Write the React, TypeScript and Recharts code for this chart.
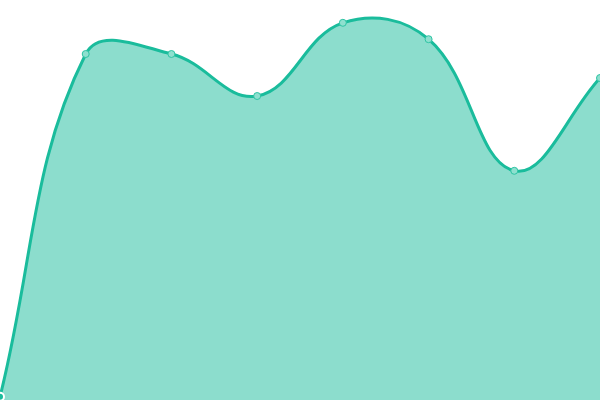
import React from "react";
import { AreaChart, Area, XAxis, YAxis } from "recharts";

const categories = ["A", "B", "C", "D", "E", "F", "G", "H"];
const values = [0.8, 86.5, 86.5, 76, 94.3, 90.2, 57.3, 80.5];

const data = categories.map((c, i) => ({ name: c, value: values[i] }));

const TENSION = 0.4;

// Spline curve (tension-based control points) as a d3-style curve factory
function splineCurve(context: any) {
  let pts: [number, number][] = [];
  let line: number = NaN;
  const draw = () => {
    const n = pts.length;
    if (!n) return;
    if (line) context.lineTo(pts[0][0], pts[0][1]);
    else context.moveTo(pts[0][0], pts[0][1]);
    if (n === 1) return;
    const cps = pts.map((p, i) => {
      const prev = pts[i - 1] || p;
      const next = pts[i + 1] || p;
      const d01 = Math.hypot(p[0] - prev[0], p[1] - prev[1]);
      const d12 = Math.hypot(next[0] - p[0], next[1] - p[1]);
      let s01 = d01 / (d01 + d12);
      let s12 = d12 / (d01 + d12);
      if (!isFinite(s01)) s01 = 0;
      if (!isFinite(s12)) s12 = 0;
      const fa = TENSION * s01;
      const fb = TENSION * s12;
      return {
        px: p[0] - fa * (next[0] - prev[0]),
        py: p[1] - fa * (next[1] - prev[1]),
        nx: p[0] + fb * (next[0] - prev[0]),
        ny: p[1] + fb * (next[1] - prev[1]),
      };
    });
    for (let i = 1; i < n; i++) {
      const a = cps[i - 1];
      const b = cps[i];
      context.bezierCurveTo(a.nx, a.ny, b.px, b.py, pts[i][0], pts[i][1]);
    }
  };
  return {
    areaStart() {
      line = 0;
    },
    areaEnd() {
      line = NaN;
    },
    lineStart() {
      pts = [];
    },
    lineEnd() {
      draw();
      if (line || (line !== 0 && pts.length === 1)) context.closePath();
      line = 1 - line;
    },
    point(x: number, y: number) {
      pts.push([+x, +y]);
    },
  };
}

export default function App() {
  return (
    <div style={{ position: "absolute", left: 0, top: 0, width: 600, height: 400 }}>
      <AreaChart width={600} height={400} data={data} margin={{ top: 0, right: 0, bottom: 0, left: 0 }}>
        <XAxis dataKey="name" hide padding={{ left: 0, right: 0 }} />
        <YAxis hide domain={[0, 100]} />
        <Area
          type={splineCurve as any}
          dataKey="value"
          stroke="#1abc9c"
          strokeWidth={3}
          fill="#1abc9c"
          fillOpacity={0.5}
          dot={{ r: 3.5, fill: "#8ee0cf", stroke: "#2ec4a4", strokeWidth: 1, fillOpacity: 1 }}
          isAnimationActive={false}
        />
      </AreaChart>
    </div>
  );
}
